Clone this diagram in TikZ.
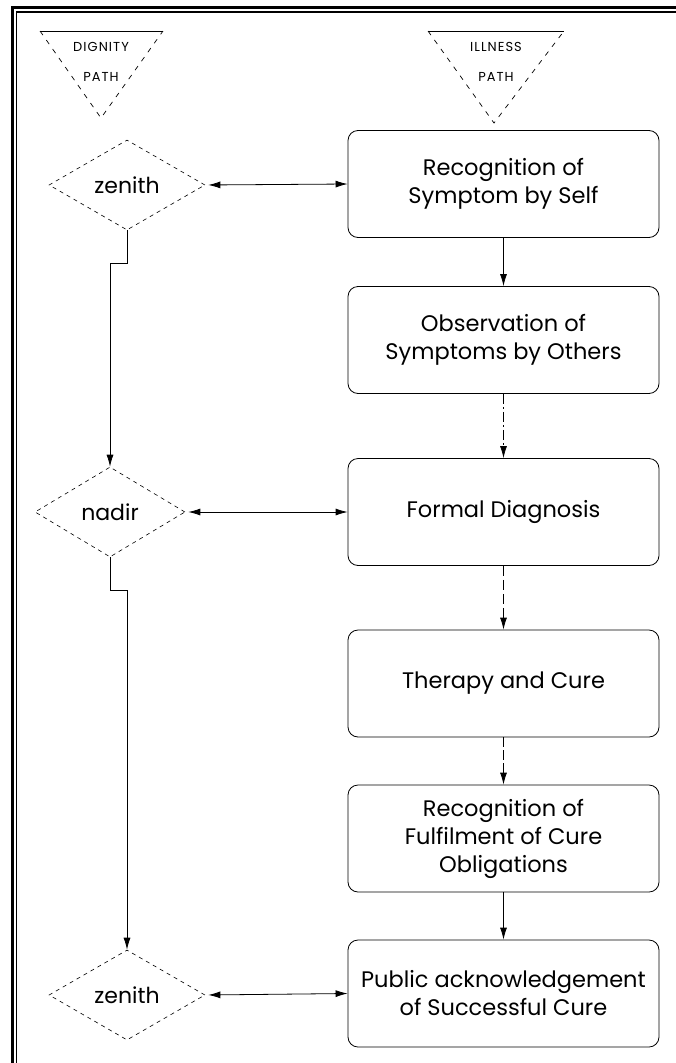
\documentclass[tikz,border=0pt]{standalone}
\usepackage{fontspec}
\setmainfont{Poppins}
\usetikzlibrary{shapes.geometric,arrows.meta}

\tikzset{
  stage/.style={draw, line width=0.8pt, rounded corners=10pt,
    minimum width=311pt, minimum height=107pt, align=center,
    font=\fontsize{22.5}{28}\selectfont},
  peak/.style={diamond, draw, dashed, dash pattern=on 4pt off 4pt,
    line width=0.6pt, minimum width=156pt, minimum height=90pt,
    aspect=1.73, inner sep=0pt, font=\fontsize{22}{28}\selectfont},
  pathlabel/.style={align=center, font=\fontsize{13}{30}\selectfont\addfontfeature{LetterSpace=8}},
  link/.style={line width=0.8pt, -{Latex[length=12pt,width=7pt]}},
  twoway/.style={line width=0.8pt, {Latex[length=12pt,width=7pt]}-{Latex[length=12pt,width=7pt]}},
  trimedge/.style={line width=0.7pt, dash pattern=on 5pt off 6pt}
}

\begin{document}
\begin{tikzpicture}[x=1pt,y=-1pt]
\useasboundingbox (0,0) rectangle (676,1063);

% double frame along the top and left sides
\draw[line width=2.5pt] (12.5,1063) -- (12.5,7.5) -- (676,7.5);
\draw[line width=1.2pt] (16.5,1063) -- (16.5,12) -- (676,12);

% heading triangles
\draw[line width=0.7pt] (40,31) -- (163,31);
\draw[trimedge] (40,31) -- (101,118) -- (163,31);
\node[pathlabel] (dignity) at (101,62) {DIGNITY\\PATH};

\draw[line width=0.7pt] (428,31) -- (564,31);
\draw[trimedge] (428,31) -- (494,123) -- (564,31);
\node[pathlabel] (illness) at (496,62) {ILLNESS\\PATH};

% illness path stages
\node[stage] (s1) at (503.5,184)   {Recognition of\\Symptom by Self};
\node[stage] (s2) at (503.5,340)   {Observation of\\Symptoms by Others};
\node[stage] (s3) at (503.5,512)   {Formal Diagnosis};
\node[stage] (s4) at (503.5,683.5) {Therapy and Cure};
\node[stage] (s5) at (503.5,838.5) {Recognition of\\Fulfilment of Cure\\Obligations};
\node[stage] (s6) at (503.5,993.5) {Public acknowledgement\\of Successful Cure};

% dignity path points
\node[peak] (z1) at (127,185) {zenith};
\node[peak, minimum width=150pt] (nd) at (110,512) {nadir};
\node[peak] (z2) at (127,995) {zenith};

% flow down the illness path
\draw[link] (s1.south) -- (s2.north);
\draw[link, dash pattern=on 10pt off 3pt on 2pt off 3pt] (s2.south) -- (s3.north);
\draw[link, dash pattern=on 10pt off 4pt] (s3.south) -- (s4.north);
\draw[link, dash pattern=on 10pt off 3pt] (s4.south) -- (s5.north);
\draw[link] (s5.south) -- (s6.north);

% flow down the dignity path
\coordinate (j1) at (127,263);
\coordinate (j2) at (110,590);
\draw[link] (z1.south) -- (j1) -| (nd.north);
\draw[link] (nd.south) -- (j2) -| (z2.north);

% links between the two paths
\draw[twoway, shorten <=3pt] (z1.east) -- (s1.west);
\draw[twoway, shorten <=3pt] (nd.east) -- (s3.west);
\draw[twoway, shorten <=3pt] (z2.east) -- (s6.west);
\end{tikzpicture}
\end{document}
